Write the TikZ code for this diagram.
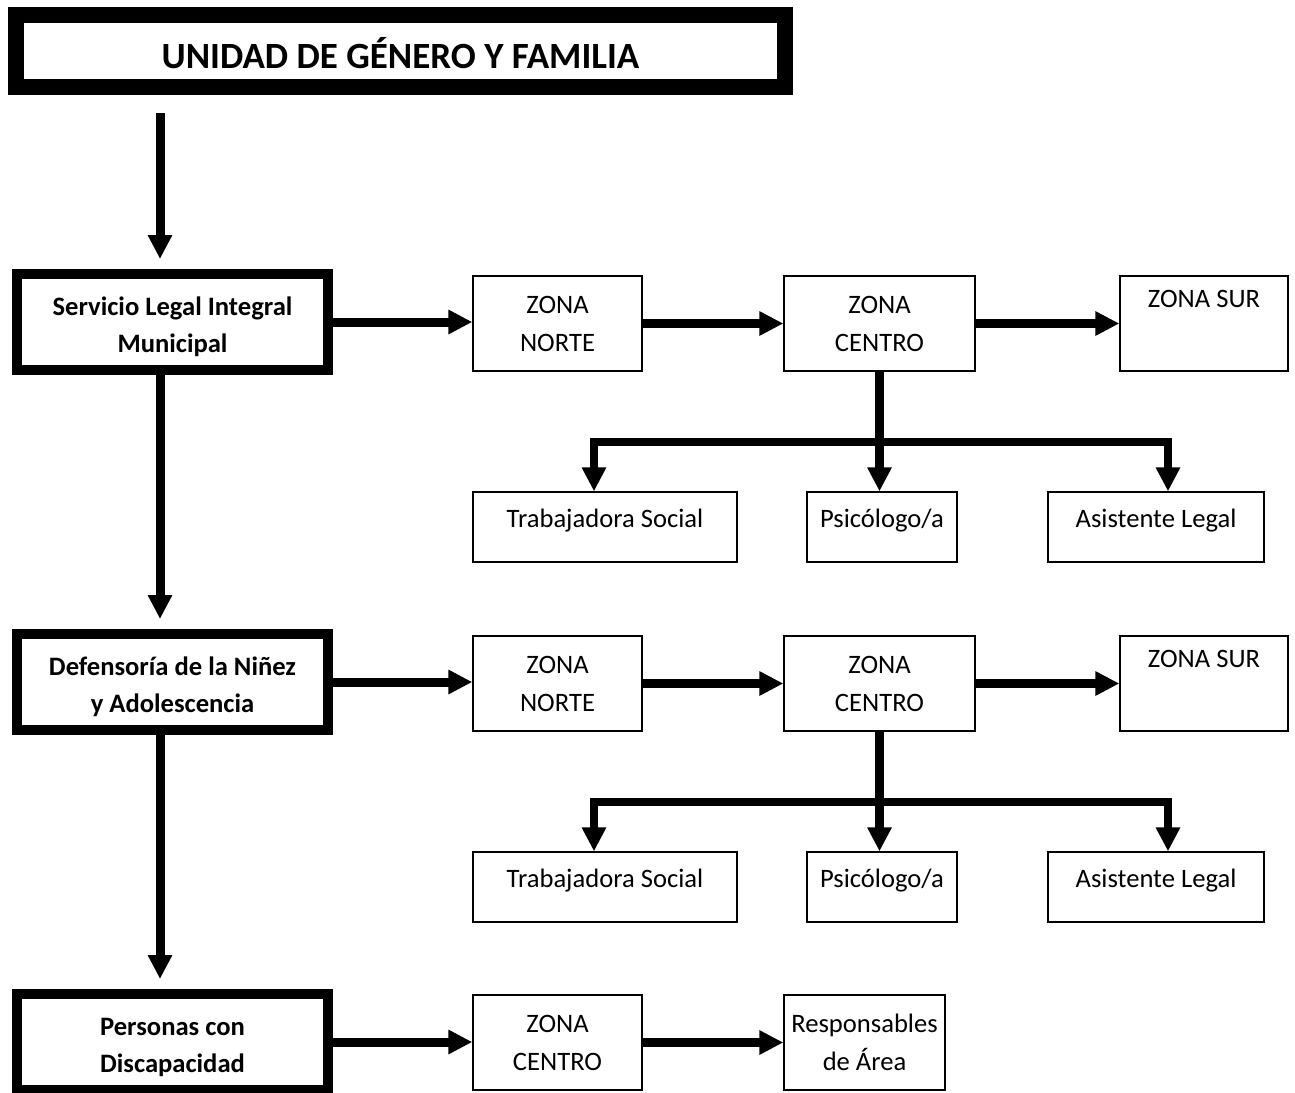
\documentclass[tikz,border=0pt]{standalone}
\usepackage{fontspec}
\setmainfont{Carlito}
\usetikzlibrary{arrows.meta,calc}
\begin{document}
\begin{tikzpicture}[x=1pt,y=-1pt,
  thickbox/.style={draw,line width=10pt,minimum width=311pt,minimum height=96pt,inner sep=0pt},
  boldtext/.style={align=center,inner sep=0pt,font=\fontsize{26.6}{37}\selectfont\bfseries},
  topbox/.style={draw,line width=16pt,minimum width=769pt,minimum height=72pt,inner sep=0pt,
     text height=34pt,text depth=0pt,font=\fontsize{37}{44}\selectfont\bfseries},
  thinbox/.style={draw,line width=1.3pt,minimum height=95pt,align=center,inner sep=0pt,
     font=\fontsize{26.6}{38}\selectfont},
  lowbox/.style={draw,line width=1.3pt,minimum height=70pt,align=center,inner sep=0pt,
     text height=12pt,text depth=12pt,font=\fontsize{26.6}{38}\selectfont},
  arr/.style={line width=9pt,line join=miter,-{Triangle[width=23pt,length=24pt]}},
  spine/.style={arr,shorten >=10pt},
  bar/.style={line width=8.5pt,line join=miter,-{Triangle[width=23pt,length=24pt]}}
]
\useasboundingbox (0,0) rectangle (1295,1092);

% top
\node[topbox] (top) at (400.5,51) {UNIDAD DE GÉNERO Y FAMILIA};
\coordinate (t0) at (160,113);

% row 1
\node[thickbox] (slim) at (172.5,322) {};
\node[boldtext] (slimt) at (172.5,327) {Servicio Legal Integral\\Municipal};
\node[thinbox,minimum width=169pt] (zn1) at (557.5,323.5) {ZONA\\NORTE};
\node[thinbox,minimum width=191pt] (zc1) at (879.5,323.5) {ZONA\\CENTRO};
\node[thinbox,minimum width=168pt] (zs1) at (1204,323.5) {ZONA SUR\\\strut};
\node[lowbox,minimum width=264pt] (ts1) at (605,527) {Trabajadora Social};
\node[lowbox,minimum width=150pt] (ps1) at (882,527) {Psicólogo/a};
\node[lowbox,minimum width=216pt] (al1) at (1156,527) {Asistente Legal};
\coordinate (b1) at (880,442);
\coordinate (b1l) at (594,442);
\coordinate (b1r) at (1168,442);

% row 2
\node[thickbox] (dna) at (172.5,682) {};
\node[boldtext] (dnat) at (172.5,687) {Defensoría de la Niñez\\y Adolescencia};
\node[thinbox,minimum width=169pt] (zn2) at (557.5,683.5) {ZONA\\NORTE};
\node[thinbox,minimum width=191pt] (zc2) at (879.5,683.5) {ZONA\\CENTRO};
\node[thinbox,minimum width=168pt] (zs2) at (1204,683.5) {ZONA SUR\\\strut};
\node[lowbox,minimum width=264pt] (ts2) at (605,887) {Trabajadora Social};
\node[lowbox,minimum width=150pt] (ps2) at (882,887) {Psicólogo/a};
\node[lowbox,minimum width=216pt] (al2) at (1156,887) {Asistente Legal};
\coordinate (b2) at (880,802);
\coordinate (b2l) at (594,802);
\coordinate (b2r) at (1168,802);

% row 3
\node[thickbox] (pcd) at (172.5,1042) {};
\node[boldtext] (pcdt) at (172.5,1047) {Personas con\\Discapacidad};
\node[thinbox,minimum width=169pt] (zc3) at (557.5,1042.5) {ZONA\\CENTRO};
\node[thinbox,minimum width=161pt] (ra3) at (864.5,1042.5) {Responsables\\de Área};

% vertical spine
\draw[spine] (t0) -- (t0 |- slim.north);
\draw[spine] (slim.south -| t0) -- (dna.north -| t0);
\draw[spine] (dna.south -| t0) -- (pcd.north -| t0);

% row 1 connectors
\draw[arr] (slim.east) -- (slim.east -| zn1.west);
\draw[arr] (zn1.east) -- (zc1.west);
\draw[arr] (zc1.east) -- (zs1.west);
\draw[bar] (zc1.south) -- (zc1.south |- ps1.north);
\draw[bar] (b1) -- (b1l) -- (b1l |- ts1.north);
\draw[bar] (b1) -- (b1r) -- (b1r |- al1.north);

% row 2 connectors
\draw[arr] (dna.east) -- (dna.east -| zn2.west);
\draw[arr] (zn2.east) -- (zc2.west);
\draw[arr] (zc2.east) -- (zs2.west);
\draw[bar] (zc2.south) -- (zc2.south |- ps2.north);
\draw[bar] (b2) -- (b2l) -- (b2l |- ts2.north);
\draw[bar] (b2) -- (b2r) -- (b2r |- al2.north);

% row 3 connectors
\draw[arr] (pcd.east) -- (pcd.east -| zc3.west);
\draw[arr] (zc3.east) -- (ra3.west);
\end{tikzpicture}
\end{document}
